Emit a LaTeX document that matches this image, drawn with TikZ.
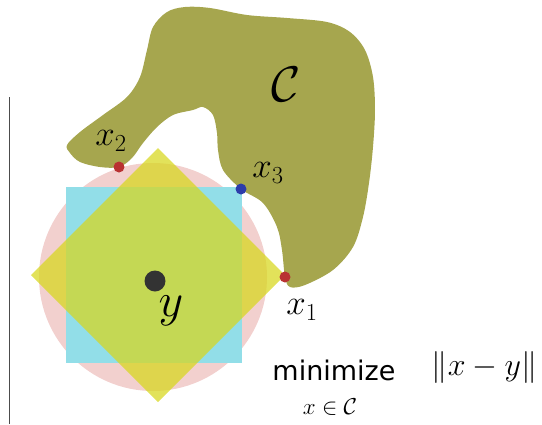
\RequirePackage{fix-cm}
\documentclass[tikz,border=0pt]{standalone}
\usepackage{fontspec}
\newfontfamily\minfont{DejaVu Sans}
\definecolor{olivo}{RGB}{166,166,78}
\definecolor{rosa}{RGB}{242,208,206}
\definecolor{cian}{RGB}{146,222,232}
\definecolor{amarillo}{RGB}{215,215,28}
\definecolor{rojo}{RGB}{185,50,50}
\definecolor{azul}{RGB}{45,60,170}
\tikzset{
  etiqueta/.style={font=\fontsize{35}{40}\selectfont, inner sep=0pt},
  punto/.style={circle, inner sep=0pt, minimum size=11pt},
}
\begin{document}
\begin{tikzpicture}[x=1pt,y=-1pt]
            \useasboundingbox (0,0) rectangle (542,424);

            % Barra vertical a la izquierda
            \draw[line width=1.5pt, black!70] (9.5,97) -- (9.5,424);

            % Conjunto C (mancha no convexa)
            \fill[olivo] plot[smooth cycle, tension=0.55] coordinates {
              (67,145) (80,132) (103,115) (127,97) (140,77) (147,50) (153,27)
              (167,12) (185,7) (210,8) (247,15) (287,18) (327,22) (350,32)
              (365,50) (373,77) (375,110) (373,147) (369,183) (363,217)
              (353,247) (333,270) (305,285) (290,287) (285,277) (282,250)
              (277,227) (263,203) (241,189) (223,170) (218,150) (217,133)
              (213,115) (203,107) (193,110) (173,115) (157,127) (143,143)
              (132,158) (119,167) (100,167) (80,162) (70,153)};
            \node[etiqueta, font=\fontsize{50}{55}\selectfont] (C) at (286,84) {$\mathcal{C}$};

            % Bolas de las normas alrededor de y
            \fill[rosa] (153,277) circle (114);
            \fill[cian] (66,187) rectangle (242,363);
            \fill[amarillo, opacity=0.725] (31,275) -- (158,148) -- (285,275) -- (158,402) -- cycle;

            % Punto y
            \node[circle, inner sep=0pt, minimum size=21pt, fill=black!80] (y) at (155,281) {};
            \node[etiqueta, font=\fontsize{48}{52}\selectfont] (ly) at (171,311) {$y$};

            % Proyecciones x1, x2, x3
            \node[punto, fill=rojo] (x1) at (285,277) {};
            \node[punto, fill=rojo] (x2) at (119,167) {};
            \node[punto, fill=azul] (x3) at (241,189) {};
            \node[etiqueta] (lx1) at (302,310) {$x_1$};
            \node[etiqueta] (lx2) at (111,141) {$x_2$};
            \node[etiqueta] (lx3) at (268,173) {$x_3$};

            % Problema de minimizacion
            \node[inner sep=0pt, anchor=base, font=\minfont\fontsize{27}{30}\selectfont] (min) at (334,380) {minimize};
            \node[inner sep=0pt, anchor=base, font=\fontsize{23}{26}\selectfont] (sub) at (330,414) {$x\in\mathcal{C}$};
            \node[inner sep=0pt, anchor=base, font=\fontsize{32}{36}\selectfont] (obj) at (484.5,375) {$\|x-y\|$};
        \end{tikzpicture}
\end{document}
